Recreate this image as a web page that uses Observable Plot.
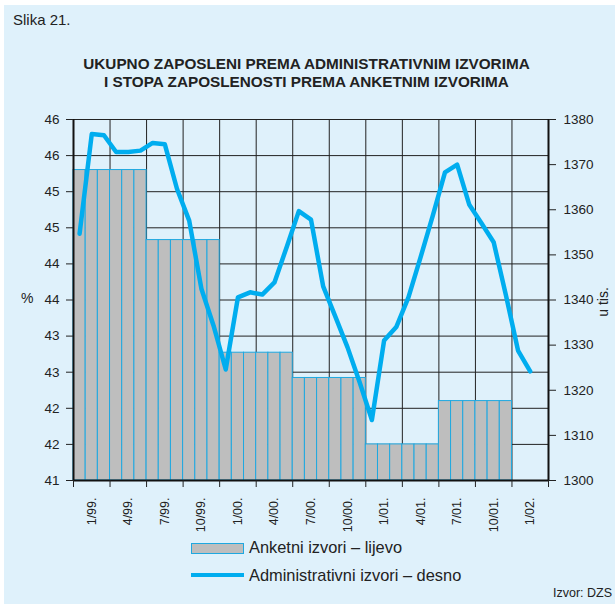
<!DOCTYPE html>
<html><head><meta charset="utf-8">
<script src="https://cdn.jsdelivr.net/npm/d3@7"></script>
<script src="https://cdn.jsdelivr.net/npm/@observablehq/plot@0.6"></script>
<style>
html,body{margin:0;padding:0;background:#fff;}
body{width:615px;height:604px;position:relative;overflow:hidden;font-family:"Liberation Sans",Arial,Helvetica,sans-serif;color:#222;}
#panel{position:absolute;left:4px;top:5px;width:611px;height:599px;background:#dff1fb;}
.abs{position:absolute;white-space:nowrap;}
#slika{left:13px;top:11px;font-size:15px;}
.title{left:0;width:613px;text-align:center;font-weight:bold;font-size:15.3px;}
#chart{position:absolute;left:0;top:100px;}
#pct{left:21px;top:290px;font-size:14px;}
#utis{left:588px;top:294px;font-size:14px;transform:rotate(-90deg);transform-origin:center;}
.legtxt{font-size:16.4px;}
#izvor{right:3px;top:586px;font-size:12.5px;}
</style></head><body>
<div id="panel"></div>
<div class="abs" id="slika">Slika 21.</div>
<div class="abs title" style="top:55px">UKUPNO ZAPOSLENI PREMA ADMINISTRATIVNIM IZVORIMA</div>
<div class="abs title" style="top:73px">I STOPA ZAPOSLENOSTI PREMA ANKETNIM IZVORIMA</div>
<div class="abs" id="pct">%</div>
<div class="abs" id="utis">u tis.</div>
<div id="chart"></div>
<div class="abs" style="left:191px;top:543px;width:51px;height:9px;background:#bebebe;border:1px solid #1fa8e0;"></div>
<div class="abs legtxt" style="left:249px;top:538px;">Anketni izvori – lijevo</div>
<div class="abs" style="left:191px;top:573px;width:53px;height:4px;background:#00adef;"></div>
<div class="abs legtxt" style="left:249px;top:566px;">Administrativni izvori – desno</div>
<div class="abs" id="izvor">Izvor: DZS</div>
<script>
// Survey employment rate (%), one value per half-year: H1/99, H2/99, H1/00, H2/00, H1/01, H2/01
const surveyHalfYear = [45.3, 44.33, 42.77, 42.42, 41.5, 42.1];
// Administrative employment (thousands), monthly Jan 1999 – Feb 2002
const admin = [
  1354.7, 1376.8, 1376.5, 1372.8, 1372.8, 1373.1, 1374.8, 1374.5, 1364.6, 1357.6, 1342.5, 1334.3,
  1324.6, 1340.6, 1341.7, 1341.2, 1343.9, 1351.7, 1359.7, 1357.8, 1343.0, 1336.3, 1329.5, 1321.7,
  1313.4, 1331.0, 1334.0, 1340.6, 1349.5, 1358.7, 1368.3, 1370.0, 1361.1, 1357.0, 1352.8, 1341.1,
  1328.8, 1324.2
];
const xLabels = ["1/99.","4/99.","7/99.","10/99.","1/00.","4/00.","7/00.","10/00.","1/01.","4/01.","7/01.","10/01.","1/02."];
const leftTicks = [41, 41.5, 42, 42.5, 43, 43.5, 44, 44.5, 45, 45.5, 46];
const rightTicks = [1300, 1310, 1320, 1330, 1340, 1350, 1360, 1370, 1380];

const toL = v => 41 + (v - 1300) * 5 / 80;
const fromL = y => 1300 + (y - 41) * 80 / 5;

const bars = [];
surveyHalfYear.forEach((v, h) => { for (let m = 0; m < 6; m++) bars.push({i: h * 6 + m, v}); });
const line = admin.map((v, i) => ({i, v}));
const quarterTicks = d3.range(0, 40, 3);
const labelPos = xLabels.map((_, k) => k * 3 + 1.5);

const chart = Plot.plot({
  width: 615, height: 440,
  marginLeft: 73, marginRight: 67, marginTop: 19, marginBottom: 60,
  x: {domain: [0, 39], axis: null},
  y: {domain: [41, 46], axis: null},
  style: {background: "transparent", fontFamily: "'Liberation Sans', Arial, sans-serif", fontSize: "13px", color: "#222"},
  marks: [
    Plot.gridY({ticks: leftTicks, stroke: "#222", strokeOpacity: 1, strokeWidth: 1}),
    Plot.gridX({ticks: quarterTicks, stroke: "#222", strokeOpacity: 1, strokeWidth: 1}),
    Plot.rect(bars, {x1: "i", x2: d => d.i + 1, y1: 41, y2: "v", fill: "#bebebe", stroke: "#1fa8e0", strokeWidth: 1}),
    Plot.line(line, {x: d => d.i + 0.5, y: d => toL(d.v), stroke: "#00adef", strokeWidth: 4.5}),
    Plot.ruleX([0, 39], {stroke: "#111", strokeWidth: 2}),
    Plot.ruleY([41], {stroke: "#111", strokeWidth: 2}),
    Plot.axisY({anchor: "left", ticks: leftTicks, tickFormat: d => String(Math.round(d)), tickSize: 7, tickPadding: 7, label: null, fontSize: 13.5}),
    Plot.axisY({anchor: "right", ticks: rightTicks.map(toL), tickFormat: d => String(Math.round(fromL(d))), tickSize: 7, tickPadding: 8, label: null, fontSize: 13.5}),
    Plot.axisX({ticks: quarterTicks, tickFormat: () => "", tickSize: 7, label: null}),
    Plot.axisX({ticks: labelPos, tickFormat: d => xLabels[Math.round((d - 1.5) / 3)], tickSize: 0, tickRotate: -90, tickPadding: 17, label: null, fontSize: 12.5})
  ]
});
document.getElementById("chart").appendChild(chart);
</script>
</body></html>
